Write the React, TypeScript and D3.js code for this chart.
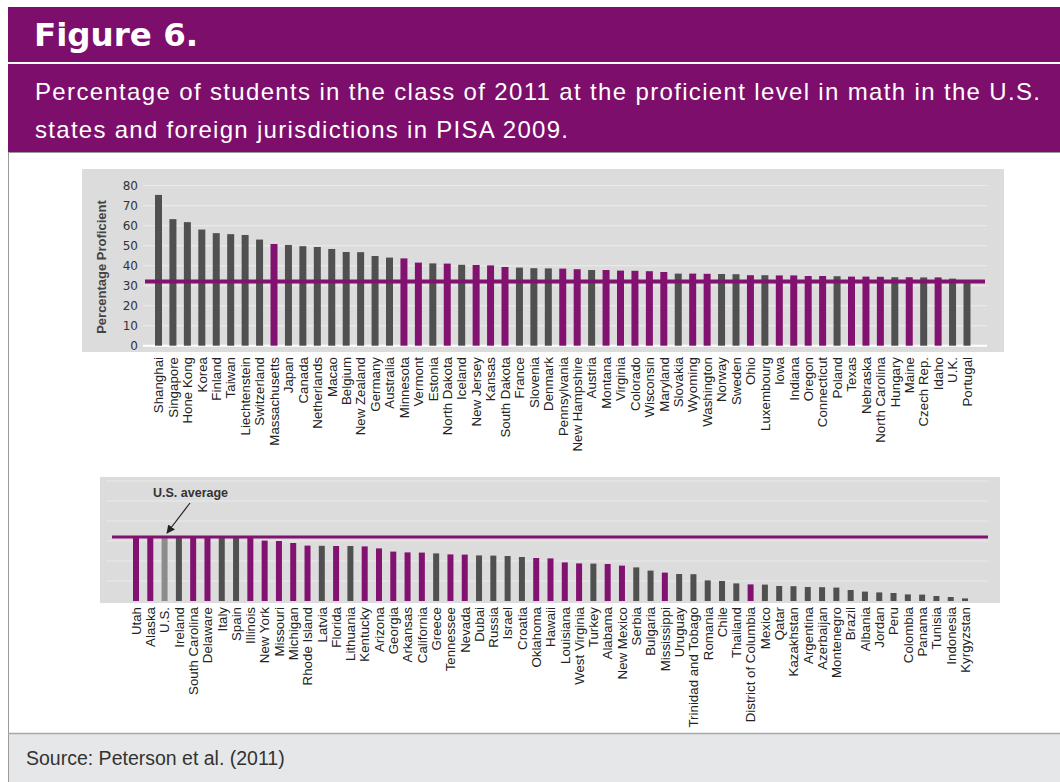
import React from 'react';
import * as d3 from 'd3';

// top panel: jurisdictions above the U.S. average
const topNames = [
  'Shanghai', 'Singapore', 'Hone Kong', 'Korea', 'Finland', 'Taiwan', 'Liechtenstein', 'Switzerland',
  'Massachusetts', 'Japan', 'Canada', 'Netherlands', 'Macao', 'Belgium', 'New Zealand', 'Germany',
  'Australia', 'Minnesota', 'Vermont', 'Estonia', 'North Dakota', 'Iceland', 'New Jersey', 'Kansas',
  'South Dakota', 'France', 'Slovenia', 'Denmark', 'Pennsylvania', 'New Hampshire', 'Austria', 'Montana',
  'Virginia', 'Colorado', 'Wisconsin', 'Maryland', 'Slovakia', 'Wyoming', 'Washington', 'Norway',
  'Sweden', 'Ohio', 'Luxembourg', 'Iowa', 'Indiana', 'Oregon', 'Connecticut', 'Poland',
  'Texas', 'Nebraska', 'North Carolina', 'Hungary', 'Maine', 'Czech Rep.', 'Idaho', 'U.K.', 'Portugal',
];
const topValues = [
  75.3, 63.2, 61.7, 58.0, 56.2, 55.7, 55.3, 53.0,
  50.8, 50.3, 49.7, 49.3, 48.3, 46.8, 46.7, 44.8,
  44.0, 43.6, 41.5, 41.1, 41.0, 40.4, 40.3, 40.1,
  39.3, 39.0, 38.7, 38.6, 38.5, 38.2, 37.8, 37.8,
  37.5, 37.4, 37.2, 36.8, 36.0, 36.0, 35.9, 35.8,
  35.7, 35.2, 35.2, 35.1, 35.1, 34.8, 34.8, 34.7,
  34.5, 34.5, 34.4, 34.2, 34.2, 34.1, 34.1, 33.5, 32.8,
];

// bottom panel: at or below the U.S. average
const bottomNames = [
  'Utah', 'Alaska', 'U.S.', 'Ireland', 'South Carolina', 'Delaware', 'Italy', 'Spain', 'Illinois',
  'New York', 'Missouri', 'Michigan', 'Rhode Island', 'Latvia', 'Florida', 'Lithuania', 'Kentucky',
  'Arizona', 'Georgia', 'Arkansas', 'California', 'Greece', 'Tennessee', 'Nevada', 'Dubai', 'Russia',
  'Israel', 'Croatia', 'Oklahoma', 'Hawaii', 'Louisiana', 'West Virginia', 'Turkey', 'Alabama',
  'New Mexico', 'Serbia', 'Bulgaria', 'Mississippi', 'Uruguay', 'Trinidad and Tobago', 'Romania',
  'Chile', 'Thailand', 'District of Columbia', 'Mexico', 'Qatar', 'Kazakhstan', 'Argentina',
  'Azerbaijan', 'Montenegro', 'Brazil', 'Albania', 'Jordan', 'Peru', 'Colombia', 'Panama', 'Tunisia',
  'Indonesia', 'Kyrgyzstan',
];
const bottomValues = [
  32.2, 32.1, 32.0, 32.0, 31.9, 31.9, 31.8, 31.7, 31.6,
  30.2, 30.0, 29.0, 27.7, 27.6, 27.5, 27.5, 27.3,
  26.3, 24.7, 24.3, 24.2, 23.8, 23.3, 23.2, 22.8, 22.7,
  22.5, 22.0, 21.5, 21.3, 19.3, 18.8, 18.7, 18.5,
  17.7, 16.8, 15.2, 14.2, 13.5, 13.4, 10.3,
  10.0, 8.8, 8.3, 8.2, 7.5, 7.4, 7.0,
  6.9, 6.7, 5.5, 4.7, 4.3, 4.0, 3.3, 3.2, 2.5,
  2.0, 1.3,
];

const usStates = [
  'Massachusetts', 'Minnesota', 'Vermont', 'North Dakota', 'New Jersey', 'Kansas', 'South Dakota',
  'Pennsylvania', 'New Hampshire', 'Montana', 'Virginia', 'Colorado', 'Wisconsin', 'Maryland',
  'Wyoming', 'Washington', 'Ohio', 'Iowa', 'Indiana', 'Oregon', 'Connecticut', 'Texas', 'Nebraska',
  'North Carolina', 'Maine', 'Idaho', 'Utah', 'Alaska', 'South Carolina', 'Delaware', 'Illinois',
  'New York', 'Missouri', 'Michigan', 'Rhode Island', 'Florida', 'Kentucky', 'Arizona', 'Georgia',
  'Arkansas', 'California', 'Tennessee', 'Nevada', 'Oklahoma', 'Hawaii', 'Louisiana', 'West Virginia',
  'Alabama', 'New Mexico', 'Mississippi', 'District of Columbia',
];

const usAverage = 32;
const yTicks = [0, 10, 20, 30, 40, 50, 60, 70, 80];

const PURPLE = '#7d0e6c';
const BAR_PURPLE = '#82126f';
const BAR_GRAY = '#505050';
const US_GRAY = '#8c8c8c';
const PANEL = '#dcdcdc';
const labelFont = '"Liberation Sans", Arial, sans-serif';

const colorFor = (name: string) =>
  name === 'U.S.' ? US_GRAY : usStates.includes(name) ? BAR_PURPLE : BAR_GRAY;

const App: React.FC = () => {
  // top chart scales
  const xTop = d3.scalePoint<string>().domain(topNames).range([158.5, 967]);
  const yTop = d3.scaleLinear().domain([0, 80]).range([345.7, 185.5]);
  // bottom chart scales (same vertical unit)
  const xBot = d3.scalePoint<string>().domain(bottomNames).range([136, 965]);
  const yBot = d3.scaleLinear().domain([0, 80]).range([601, 441]);

  return (
    <svg width={1060} height={782} style={{ position: 'absolute', left: 0, top: 0 }}>
      <rect x={0} y={0} width={1060} height={782} fill="#fff" />

      {/* header */}
      <rect x={8} y={7} width={1052} height={55} fill={PURPLE} />
      <rect x={8} y={64} width={1052} height={88} fill={PURPLE} />
      <text x={34} y={46} fill="#fff" fontFamily='"DejaVu Sans", sans-serif' fontWeight="bold" fontSize={32.5}>
        Figure 6.
      </text>
      <text x={35} y={100} fill="#fff" fontFamily={labelFont} fontSize={24} textLength={1005} lengthAdjust="spacing">
        Percentage of students in the class of 2011 at the proficient level in math in the U.S.
      </text>
      <text x={35} y={138} fill="#fff" fontFamily={labelFont} fontSize={24} textLength={533} lengthAdjust="spacing">
        states and foreign jurisdictions in PISA 2009.
      </text>
      <line x1={8} x2={1060} y1={152.5} y2={152.5} stroke="#9a9a9a" />
      <line x1={8.5} x2={8.5} y1={152} y2={782} stroke="#9a9a9a" />

      {/* footer */}
      <rect x={9} y={733} width={1051} height={49} fill="#e6e7e8" />
      <line x1={8} x2={1060} y1={733.5} y2={733.5} stroke="#a8a8a8" strokeWidth={1.5} />
      <text x={26} y={765} fill="#333" fontFamily={labelFont} fontSize={19.5}>
        Source: Peterson et al. (2011)
      </text>

      {/* top chart */}
      <rect x={82} y={169} width={922} height={183} fill={PANEL} />
      {yTicks.map(t => (
        <g key={t}>
          <line x1={143} x2={987} y1={yTop(t)} y2={yTop(t)}
            stroke={t === 0 ? '#fff' : '#e9e9e9'} strokeWidth={t === 0 ? 2 : 1.2} />
          <text x={138} y={yTop(t)} dy="0.35em" textAnchor="end" fill="#333"
            fontFamily='"DejaVu Sans", sans-serif' fontSize={12}>{t}</text>
        </g>
      ))}
      <text transform="translate(106,267) rotate(-90)" textAnchor="middle" fill="#444"
        fontFamily={labelFont} fontWeight="bold" fontSize={13}>Percentage Proficient</text>
      {topNames.map((n, i) => (
        <rect key={n} x={(xTop(n) as number) - 3.5} width={7} y={yTop(topValues[i])}
          height={yTop(0) - yTop(topValues[i])} fill={colorFor(n)} />
      ))}
      <line x1={145} x2={985} y1={yTop(usAverage)} y2={yTop(usAverage)} stroke={BAR_PURPLE} strokeWidth={4} />
      {topNames.map(n => (
        <text key={n} transform={`translate(${xTop(n)},357) rotate(-90)`} dy="0.36em" textAnchor="end"
          fill="#222" fontFamily={labelFont} fontSize={13.3}>{n}</text>
      ))}

      {/* bottom chart */}
      <rect x={100} y={477} width={900} height={126} fill={PANEL} />
      {[10, 20, 30, 40, 50, 60].map(t => (
        <line key={t} x1={106} x2={988} y1={yBot(t)} y2={yBot(t)} stroke="#e9e9e9" strokeWidth={1.2} />
      ))}
      {bottomNames.map((n, i) => (
        <rect key={n} x={(xBot(n) as number) - 3} width={6} y={yBot(bottomValues[i])}
          height={yBot(0) - yBot(bottomValues[i])} fill={colorFor(n)} />
      ))}
      <line x1={112} x2={988} y1={yBot(usAverage)} y2={yBot(usAverage)} stroke={BAR_PURPLE} strokeWidth={3} />
      <text x={153} y={497} fill="#333" fontFamily={labelFont} fontWeight="bold" fontSize={12.5}>U.S. average</text>
      <defs>
        <marker id="arr" viewBox="0 0 10 10" refX={9} refY={5} markerWidth={7} markerHeight={7} orient="auto">
          <path d="M0,0L10,5L0,10z" fill="#222" />
        </marker>
      </defs>
      <line x1={190} y1={503} x2={167} y2={533} stroke="#222" strokeWidth={1.2} markerEnd="url(#arr)" />
      {bottomNames.map(n => (
        <text key={n} transform={`translate(${xBot(n)},607) rotate(-90)`} dy="0.36em" textAnchor="end"
          fill="#222" fontFamily={labelFont} fontSize={13.3}>{n}</text>
      ))}
    </svg>
  );
};

export default App;
